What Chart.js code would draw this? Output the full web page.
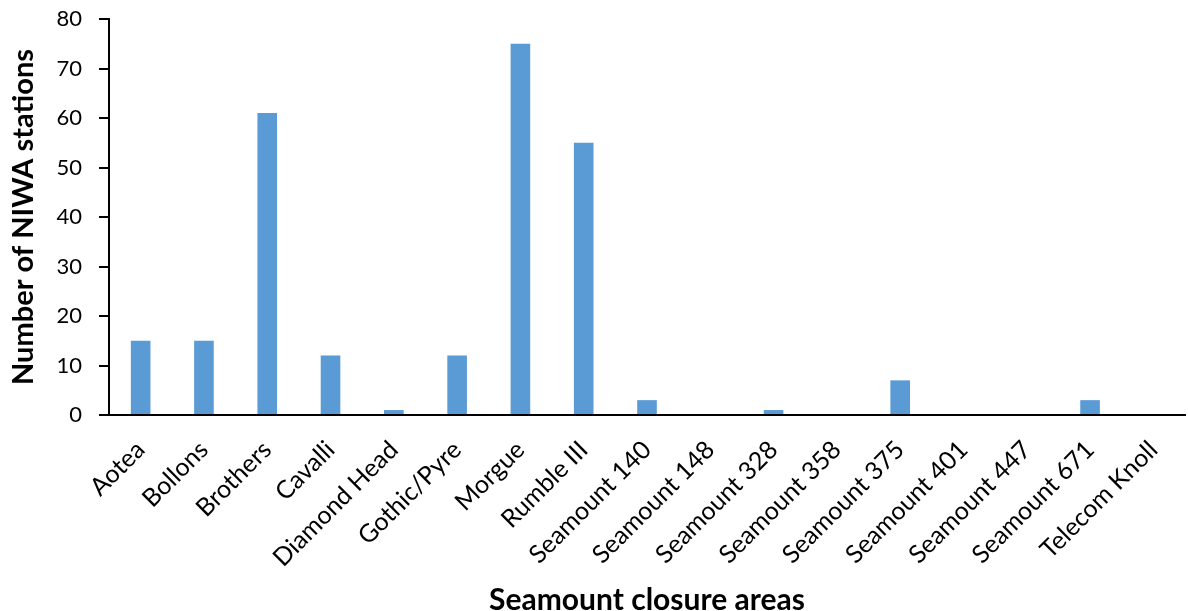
<!DOCTYPE html>
<html>
<head>
<meta charset="utf-8">
<script src="https://cdn.jsdelivr.net/npm/chart.js@4/dist/chart.umd.min.js"></script>
<style>
html,body{margin:0;padding:0;background:#fff;}
#wrap{width:1188px;height:611px;}
</style>
</head>
<body>
<div id="wrap"><canvas id="c" width="1188" height="611"></canvas></div>
<script>
const categories = ["Aotea","Bollons","Brothers","Cavalli","Diamond Head","Gothic/Pyre","Morgue","Rumble III","Seamount 140","Seamount 148","Seamount 328","Seamount 358","Seamount 375","Seamount 401","Seamount 447","Seamount 671","Telecom Knoll"];
const stations = [15,15,61,12,1,12,75,55,3,0,1,0,7,0,0,3,0];
const yTicks = [0,10,20,30,40,50,60,70,80];
const xTitle = "Seamount closure areas";
const yTitle = "Number of NIWA stations";

const FONT = "Lato, 'Open Sans', sans-serif";
const chart = new Chart(document.getElementById('c'), {
  type: 'bar',
  data: {
    labels: categories,
    datasets: [{
      data: stations,
      backgroundColor: '#5B9BD5',
      borderWidth: 0,
      barPercentage: 0.31,
      categoryPercentage: 1.0
    }]
  },
  options: {
    responsive: false,
    animation: false,
    devicePixelRatio: 1,
    layout: { padding: { left: 0, right: 3, top: 19, bottom: 0 } },
    plugins: { legend: { display: false }, tooltip: { enabled: false } },
    scales: {
      x: {
        grid: { display: true, drawOnChartArea: false, drawTicks: false },
        border: { display: true, color: '#000', width: 2 },
        ticks: { color: '#000', font: { family: FONT, size: 25 }, minRotation: 45, maxRotation: 45, autoSkip: false, padding: 20 },
        title: { display: true, text: xTitle, color: '#000', font: { family: FONT, size: 30, weight: 'bold', lineHeight: 1 }, padding: { top: 0, bottom: -4 } },
        afterFit: s => { s.height = 196; s.paddingLeft = 0; s.paddingRight = 0; }
      },
      y: {
        min: 0, max: 80,
        afterBuildTicks: s => { s.ticks = yTicks.map(v => ({ value: v })); },
        grid: { display: true, drawOnChartArea: false, drawTicks: true, tickLength: 10, color: '#000', lineWidth: 2 },
        border: { display: true, color: '#000', width: 2 },
        ticks: { color: '#000', font: { family: FONT, size: 22 }, padding: 17 },
        title: { display: true, text: yTitle, color: '#000', font: { family: FONT, size: 29, weight: 'bold' }, padding: { top: 6, bottom: 0 } },
        afterFit: s => { s.width = 109; s.paddingTop = 0; s.paddingBottom = 0; }
      }
    }
  }
});
</script>
</body>
</html>
